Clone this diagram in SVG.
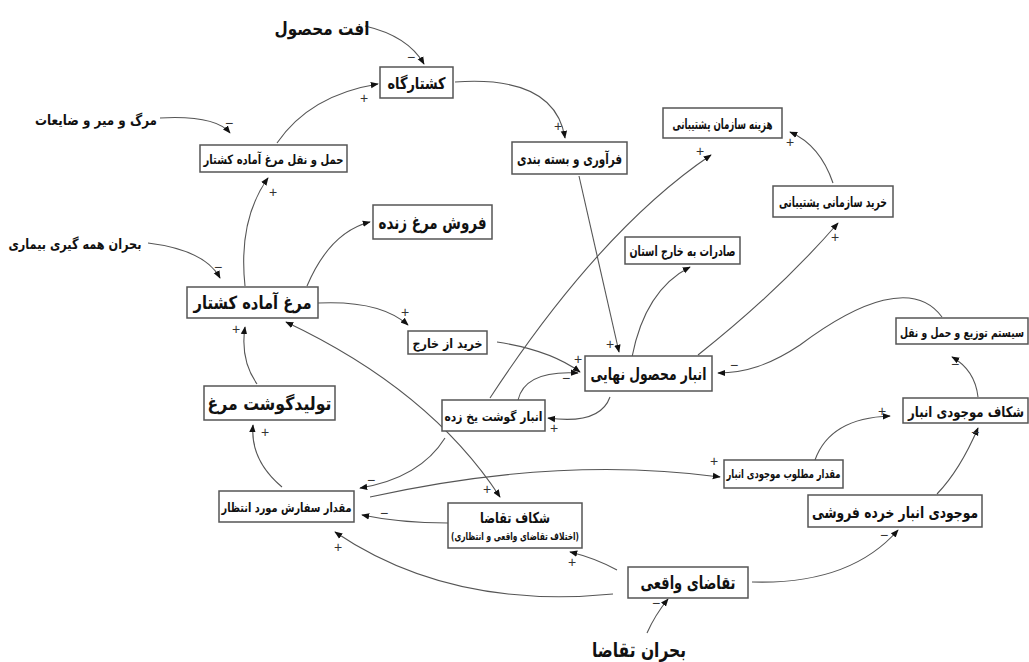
<svg xmlns="http://www.w3.org/2000/svg" width="1029" height="662" viewBox="0 0 1029 662">
<defs>
<style>
.box{fill:#fff;stroke:#555;stroke-width:1.5}
.t{font-family:"DejaVu Sans",sans-serif;font-weight:bold;fill:#111;text-anchor:middle}
.c{fill:none;stroke:#555;stroke-width:1.1}
.s{font-family:"Liberation Sans",sans-serif;font-size:14px;fill:#333;text-anchor:middle}
</style>
<marker id="ah" viewBox="0 0 10 10" refX="9" refY="5" markerWidth="8" markerHeight="8" markerUnits="userSpaceOnUse" orient="auto-start-reverse">
<path d="M0,1 L10,5 L0,9 z" fill="#111"/>
</marker>
</defs>
<rect width="1029" height="662" fill="#fff"/>
<g id="connectors">
<path class="c" d="M365,26 Q408,36 424,64" marker-end="url(#ah)"/>
<path class="c" d="M277,143 Q310,95 378,84" marker-end="url(#ah)"/>
<path class="c" d="M160,118 Q215,115 230,133" marker-end="url(#ah)"/>
<path class="c" d="M245,286 Q238,220 268,178" marker-end="url(#ah)"/>
<path class="c" d="M307,286 Q330,232 370,222" marker-end="url(#ah)"/>
<path class="c" d="M148,243 Q205,250 220,278" marker-end="url(#ah)"/>
<path class="c" d="M318,303 Q380,300 408,325" marker-end="url(#ah)"/>
<path class="c" d="M257,384 Q240,360 245,327" marker-end="url(#ah)"/>
<path class="c" d="M286,322 Q430,390 500,497" marker-start="url(#ah)" marker-end="url(#ah)"/>
<path class="c" d="M497,342 Q550,350 580,372" marker-end="url(#ah)"/>
<path class="c" d="M518,400 Q525,370 578,373" marker-end="url(#ah)"/>
<path class="c" d="M610,397 Q600,425 548,418" marker-end="url(#ah)"/>
<path class="c" d="M490,398 Q600,230 711,155" marker-end="url(#ah)"/>
<path class="c" d="M579,176 L619,352" marker-end="url(#ah)"/>
<path class="c" d="M455,82 Q555,75 565,138" marker-end="url(#ah)"/>
<path class="c" d="M632,357 Q645,290 690,267" marker-end="url(#ah)"/>
<path class="c" d="M698,355 Q780,290 838,223" marker-end="url(#ah)"/>
<path class="c" d="M833,183 Q820,145 790,132" marker-end="url(#ah)"/>
<path class="c" d="M942,317 C915,280 860,300 800,345 C770,365 745,373 718,373" marker-end="url(#ah)"/>
<path class="c" d="M978,397 Q975,370 952,357" marker-end="url(#ah)"/>
<path class="c" d="M815,460 Q830,418 890,416" marker-end="url(#ah)"/>
<path class="c" d="M937,494 Q960,470 978,428" marker-end="url(#ah)"/>
<path class="c" d="M752,582 Q850,585 898,530" marker-end="url(#ah)"/>
<path class="c" d="M617,570 Q595,558 570,552" marker-end="url(#ah)"/>
<path class="c" d="M613,594 Q450,610 335,532" marker-end="url(#ah)"/>
<path class="c" d="M448,523 Q400,523 362,515" marker-end="url(#ah)"/>
<path class="c" d="M445,438 Q420,478 360,488" marker-end="url(#ah)"/>
<path class="c" d="M370,497 Q560,455 720,477" marker-end="url(#ah)"/>
<path class="c" d="M282,487 Q250,460 253,425" marker-end="url(#ah)"/>
<path class="c" d="M647,633 Q655,615 668,599" marker-end="url(#ah)"/>
<text class="s" x="411" y="62">−</text>
<text class="s" x="364" y="103">+</text>
<text class="s" x="229" y="128">−</text>
<text class="s" x="273" y="197">+</text>
<text class="s" x="218" y="272">−</text>
<text class="s" x="405" y="317">+</text>
<text class="s" x="236" y="334">+</text>
<text class="s" x="487" y="494">+</text>
<text class="s" x="578" y="364">+</text>
<text class="s" x="566" y="383">−</text>
<text class="s" x="554" y="433">+</text>
<text class="s" x="700" y="156">+</text>
<text class="s" x="610" y="349">+</text>
<text class="s" x="558" y="131">+</text>
<text class="s" x="835" y="242">+</text>
<text class="s" x="790" y="147">+</text>
<text class="s" x="734" y="370">−</text>
<text class="s" x="955" y="369">−</text>
<text class="s" x="882" y="416">+</text>
<text class="s" x="975" y="437">−</text>
<text class="s" x="884" y="540">−</text>
<text class="s" x="572" y="567">+</text>
<text class="s" x="338" y="552">+</text>
<text class="s" x="384" y="518">−</text>
<text class="s" x="371" y="485">−</text>
<text class="s" x="714" y="466">+</text>
<text class="s" x="265" y="437">+</text>
<text class="s" x="656" y="608">−</text>
</g>
<g id="n-oft"><text class="t" x="322" y="35" font-size="18" textLength="95" lengthAdjust="spacingAndGlyphs">افت محصول</text></g>
<g id="n-koshtargah"><rect class="box" x="380" y="67" width="73" height="31"/><text class="t" x="416.5" y="89" font-size="16" textLength="58" lengthAdjust="spacingAndGlyphs">کشتارگاه</text></g>
<g id="n-marg"><text class="t" x="96" y="125" font-size="14" textLength="122" lengthAdjust="spacingAndGlyphs">مرگ و میر و ضایعات</text></g>
<g id="n-haml"><rect class="box" x="200" y="145" width="147" height="27"/><text class="t" x="273.5" y="164" font-size="13" textLength="140" lengthAdjust="spacingAndGlyphs">حمل و نقل مرغ آماده کشتار</text></g>
<g id="n-faravari"><rect class="box" x="512" y="142" width="115" height="32"/><text class="t" x="569.5" y="164" font-size="15" textLength="105" lengthAdjust="spacingAndGlyphs">فرآوری و بسته بندی</text></g>
<g id="n-hazine"><rect class="box" x="663" y="108" width="119" height="30"/><text class="t" x="722.5" y="129" font-size="14" textLength="100" lengthAdjust="spacingAndGlyphs">هزینه سازمان پشتیبانی</text></g>
<g id="n-kharid-sazmani"><rect class="box" x="773" y="186" width="120" height="31"/><text class="t" x="833" y="207" font-size="14" textLength="108" lengthAdjust="spacingAndGlyphs">خرید سازمانی پشتیبانی</text></g>
<g id="n-saderat"><rect class="box" x="625" y="237" width="115" height="27"/><text class="t" x="682.5" y="256" font-size="14" textLength="106" lengthAdjust="spacingAndGlyphs">صادرات به خارج استان</text></g>
<g id="n-forush"><rect class="box" x="373" y="205" width="119" height="34"/><text class="t" x="432.5" y="229" font-size="18" textLength="108" lengthAdjust="spacingAndGlyphs">فروش مرغ زنده</text></g>
<g id="n-bohran-bimari"><text class="t" x="75" y="249" font-size="14" textLength="133" lengthAdjust="spacingAndGlyphs">بحران همه گیری بیماری</text></g>
<g id="n-morgh"><rect class="box" x="187" y="287" width="131" height="31"/><text class="t" x="252.5" y="309" font-size="18" textLength="118" lengthAdjust="spacingAndGlyphs">مرغ آماده کشتار</text></g>
<g id="n-kharid-khrej"><rect class="box" x="408" y="331" width="79" height="23"/><text class="t" x="447.5" y="348" font-size="13" textLength="70" lengthAdjust="spacingAndGlyphs">خرید از خارج</text></g>
<g id="n-anbar-nahaei"><rect class="box" x="585" y="356" width="127" height="35"/><text class="t" x="648.5" y="380" font-size="17" textLength="116" lengthAdjust="spacingAndGlyphs">انبار محصول نهایی</text></g>
<g id="n-system"><rect class="box" x="896" y="318" width="132" height="26"/><text class="t" x="962" y="337" font-size="12.5" textLength="124" lengthAdjust="spacingAndGlyphs">سیستم توزیع و حمل و نقل</text></g>
<g id="n-shekaf-anbar"><rect class="box" x="903" y="398" width="125" height="25"/><text class="t" x="966" y="417" font-size="14.5" textLength="116" lengthAdjust="spacingAndGlyphs">شکاف موجودی انبار</text></g>
<g id="n-motlub"><rect class="box" x="724" y="460" width="119" height="28"/><text class="t" x="783.5" y="478" font-size="12" textLength="114" lengthAdjust="spacingAndGlyphs">مقدار مطلوب موجودی انبار</text></g>
<g id="n-khorde"><rect class="box" x="808" y="495" width="174" height="32"/><text class="t" x="895" y="518" font-size="16" textLength="166" lengthAdjust="spacingAndGlyphs">موجودی انبار خرده فروشی</text></g>
<g id="n-taghaza"><rect class="box" x="628" y="567" width="120" height="31"/><text class="t" x="688" y="589" font-size="18" textLength="95" lengthAdjust="spacingAndGlyphs">تقاضای واقعی</text></g>
<g id="n-bohran-taghaza"><text class="t" x="639" y="657" font-size="20" textLength="94" lengthAdjust="spacingAndGlyphs">بحران تقاضا</text></g>
<g id="n-shekaf-taghaza"><rect class="box" x="448" y="503" width="134" height="45"/><text class="t" x="515" y="523" font-size="15" textLength="70" lengthAdjust="spacingAndGlyphs">شکاف تقاضا</text><text class="t" x="515" y="540" font-size="11" textLength="128" lengthAdjust="spacingAndGlyphs">(اختلاف تقاضای واقعی و انتظاری)</text></g>
<g id="n-sefaresh"><rect class="box" x="219" y="491" width="135" height="31"/><text class="t" x="286.5" y="512" font-size="12.5" textLength="130" lengthAdjust="spacingAndGlyphs">مقدار سفارش مورد انتظار</text></g>
<g id="n-tolid"><rect class="box" x="204" y="386" width="131" height="34"/><text class="t" x="269.5" y="410" font-size="18" textLength="124" lengthAdjust="spacingAndGlyphs">تولیدگوشت مرغ</text></g>
<g id="n-yakhzade"><rect class="box" x="442" y="400" width="103" height="31"/><text class="t" x="493.5" y="421" font-size="12.5" textLength="98" lengthAdjust="spacingAndGlyphs">انبار گوشت یخ زده</text></g>
</svg>
